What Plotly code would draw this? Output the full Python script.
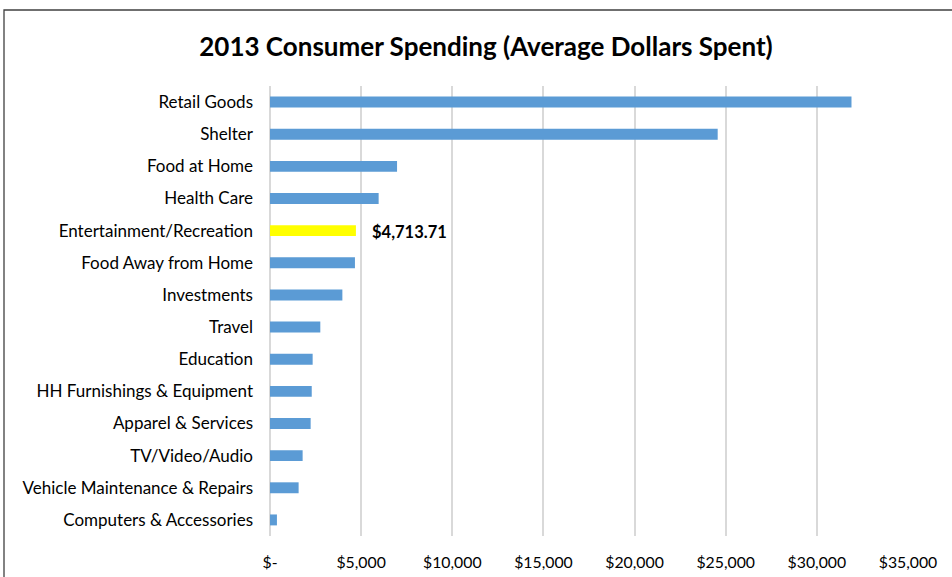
import plotly.graph_objects as go

# Average annual spending per category (US$), 2013
categories = [
    "Retail Goods", "Shelter", "Food at Home", "Health Care",
    "Entertainment/Recreation", "Food Away from Home", "Investments",
    "Travel", "Education", "HH Furnishings & Equipment",
    "Apparel & Services", "TV/Video/Audio",
    "Vehicle Maintenance & Repairs", "Computers & Accessories",
]
spending = [
    31900, 24560, 6970, 5960,
    4713.71, 4660, 3970,
    2760, 2340, 2290,
    2230, 1790,
    1570, 380,
]
highlight = "Entertainment/Recreation"

tick_values = [0, 5000, 10000, 15000, 20000, 25000, 30000, 35000]
tick_labels = ["$-", "$5,000", "$10,000", "$15,000", "$20,000",
               "$25,000", "$30,000", "$35,000"]

BLUE = "#5b9bd5"
YELLOW = "#ffff00"
colors = [YELLOW if c == highlight else BLUE for c in categories]

font_family = "Lato, 'Open Sans', sans-serif"

fig = go.Figure(
    go.Bar(
        x=spending,
        y=categories,
        orientation="h",
        marker=dict(color=colors, line=dict(width=0)),
        width=0.34,
        hoverinfo="x+y",
    )
)

hi_val = spending[categories.index(highlight)]
fig.add_annotation(
    x=hi_val, y=highlight, xref="x", yref="y",
    text=f"<b>${hi_val:,.2f}</b>",
    showarrow=False, xanchor="left", xshift=14, yshift=-1,
    font=dict(family=font_family, size=16.5, color="#000000"),
)

# Chart frame
fig.add_shape(
    type="rect", xref="paper", yref="paper",
    x0=(4 - 270) / 638, x1=1 + (960 - 908) / 638,
    y0=-(590 - 536) / 450, y1=1 + (86 - 10) / 450,
    line=dict(color="#404040", width=1.3), fillcolor="rgba(0,0,0,0)",
    layer="below",
)

fig.update_layout(
    width=952, height=577,
    margin=dict(l=270, r=44, t=86, b=41),
    paper_bgcolor="white", plot_bgcolor="white",
    showlegend=False,
    title=dict(
        text="<b>2013 Consumer Spending (Average Dollars Spent)</b>",
        x=486 / 952, xref="container", xanchor="center",
        y=1 - 47 / 577, yanchor="middle",
        font=dict(family=font_family, size=26, color="#000000"),
    ),
    font=dict(family=font_family, size=15, color="#000000"),
    bargap=0.66,
)

fig.update_xaxes(
    range=[0, 35000],
    tickvals=tick_values, ticktext=tick_labels,
    showgrid=True, gridcolor="#d9d9d9", gridwidth=1.5,
    zeroline=True, zerolinecolor="#d9d9d9", zerolinewidth=1.5,
    showline=False, ticks="",
    automargin=False,
    ticklabelstandoff=15,
    tickfont=dict(family=font_family, size=15.8, color="#000000"),
)
fig.update_yaxes(
    categoryorder="array", categoryarray=categories,
    autorange="reversed",
    showgrid=False, showline=False, ticks="",
    automargin=False,
    ticklabelstandoff=16,
    tickfont=dict(family=font_family, size=17, color="#000000"),
)

fig.write_html("out.html")
